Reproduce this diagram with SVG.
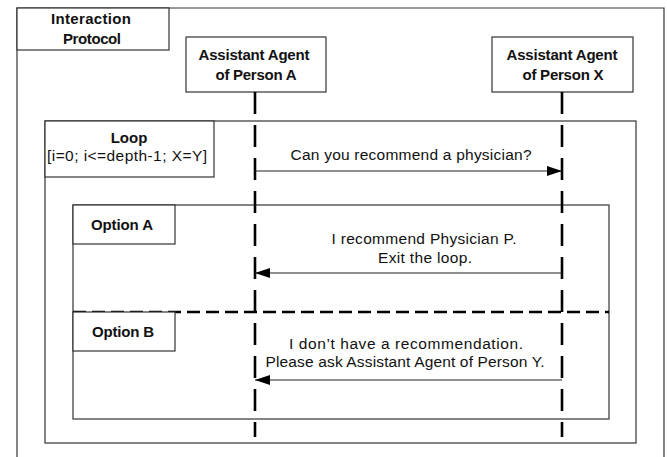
<svg xmlns="http://www.w3.org/2000/svg" width="667" height="457" viewBox="0 0 667 457">
<style>
.frame{fill:#fff;stroke:#333;stroke-width:1.2}
.frameo{fill:none;stroke:#333;stroke-width:1.2}
.b{font-family:"Liberation Sans",Arial,sans-serif;font-weight:bold;font-size:15px;fill:#111;text-anchor:middle}
.r{font-family:"Liberation Sans",Arial,sans-serif;font-size:15.5px;fill:#111;text-anchor:middle}
.life{stroke:#000;stroke-width:2.6;stroke-dasharray:22 11;fill:none}
.msg{stroke:#222;stroke-width:1.1;fill:none;marker-end:url(#ah)}
.sep{stroke:#000;stroke-width:2.4;stroke-dasharray:13 6;fill:none}
</style>
<defs>
<marker id="ah" markerUnits="userSpaceOnUse" markerWidth="16" markerHeight="10" refX="15" refY="5" orient="auto">
<path d="M0,0 L15,5 L0,10 Z" fill="#000"/>
</marker>
</defs>
<rect width="667" height="457" fill="#fff"/>
<g id="interaction-protocol">
<path class="frameo" d="M17,470 V8 H664 V470"/>
<rect class="frame" x="17" y="8" width="152" height="42"/>
<text class="b" x="91" y="24" textLength="80">Interaction</text>
<text class="b" x="92" y="44" textLength="58">Protocol</text>
</g>
<g id="loop">
<rect class="frameo" x="45" y="121" width="591" height="322"/>
<rect class="frame" x="45" y="121" width="169" height="56"/>
<text class="b" x="129" y="143" font-size="14px">Loop</text>
<text class="r" x="127" y="161" textLength="160">[i=0; i&lt;=depth-1; X=Y]</text>
</g>
<g id="alt">
<rect class="frameo" x="73" y="205" width="536" height="214"/>
<rect class="frame" x="73" y="205" width="102" height="39"/>
<text class="b" x="122" y="230" textLength="62">Option A</text>
<line class="sep" x1="73" y1="312" x2="609" y2="312"/>
<rect class="frame" x="73" y="312" width="102" height="39"/>
<text class="b" x="123" y="337" textLength="62">Option B</text>
</g>
<g id="agent-a">
<rect class="frame" x="186" y="37" width="140" height="55"/>
<text class="b" x="254" y="60" textLength="111">Assistant Agent</text>
<text class="b" x="256" y="80" textLength="81">of Person A</text>
</g>
<g id="agent-x">
<rect class="frame" x="492" y="37" width="141" height="55"/>
<text class="b" x="562" y="60" textLength="111">Assistant Agent</text>
<text class="b" x="563" y="80" textLength="81">of Person X</text>
</g>
<g id="connectors">
<line class="life" x1="255" y1="92" x2="255" y2="437"/>
<line class="life" x1="562" y1="92" x2="562" y2="437"/>
<line class="msg" x1="255" y1="171" x2="562" y2="171"/>
<text class="r" x="411" y="160" textLength="241">Can you recommend a physician?</text>
<line class="msg" x1="562" y1="273" x2="255" y2="273"/>
<text class="r" x="424" y="244" textLength="185">I recommend Physician P.</text>
<text class="r" x="425" y="263" textLength="94">Exit the loop.</text>
<line class="msg" x1="562" y1="380" x2="255" y2="380"/>
<text class="r" x="406" y="349" textLength="234">I don’t have a recommendation.</text>
<text class="r" x="405" y="367" textLength="279">Please ask Assistant Agent of Person Y.</text>
</g>
</svg>
